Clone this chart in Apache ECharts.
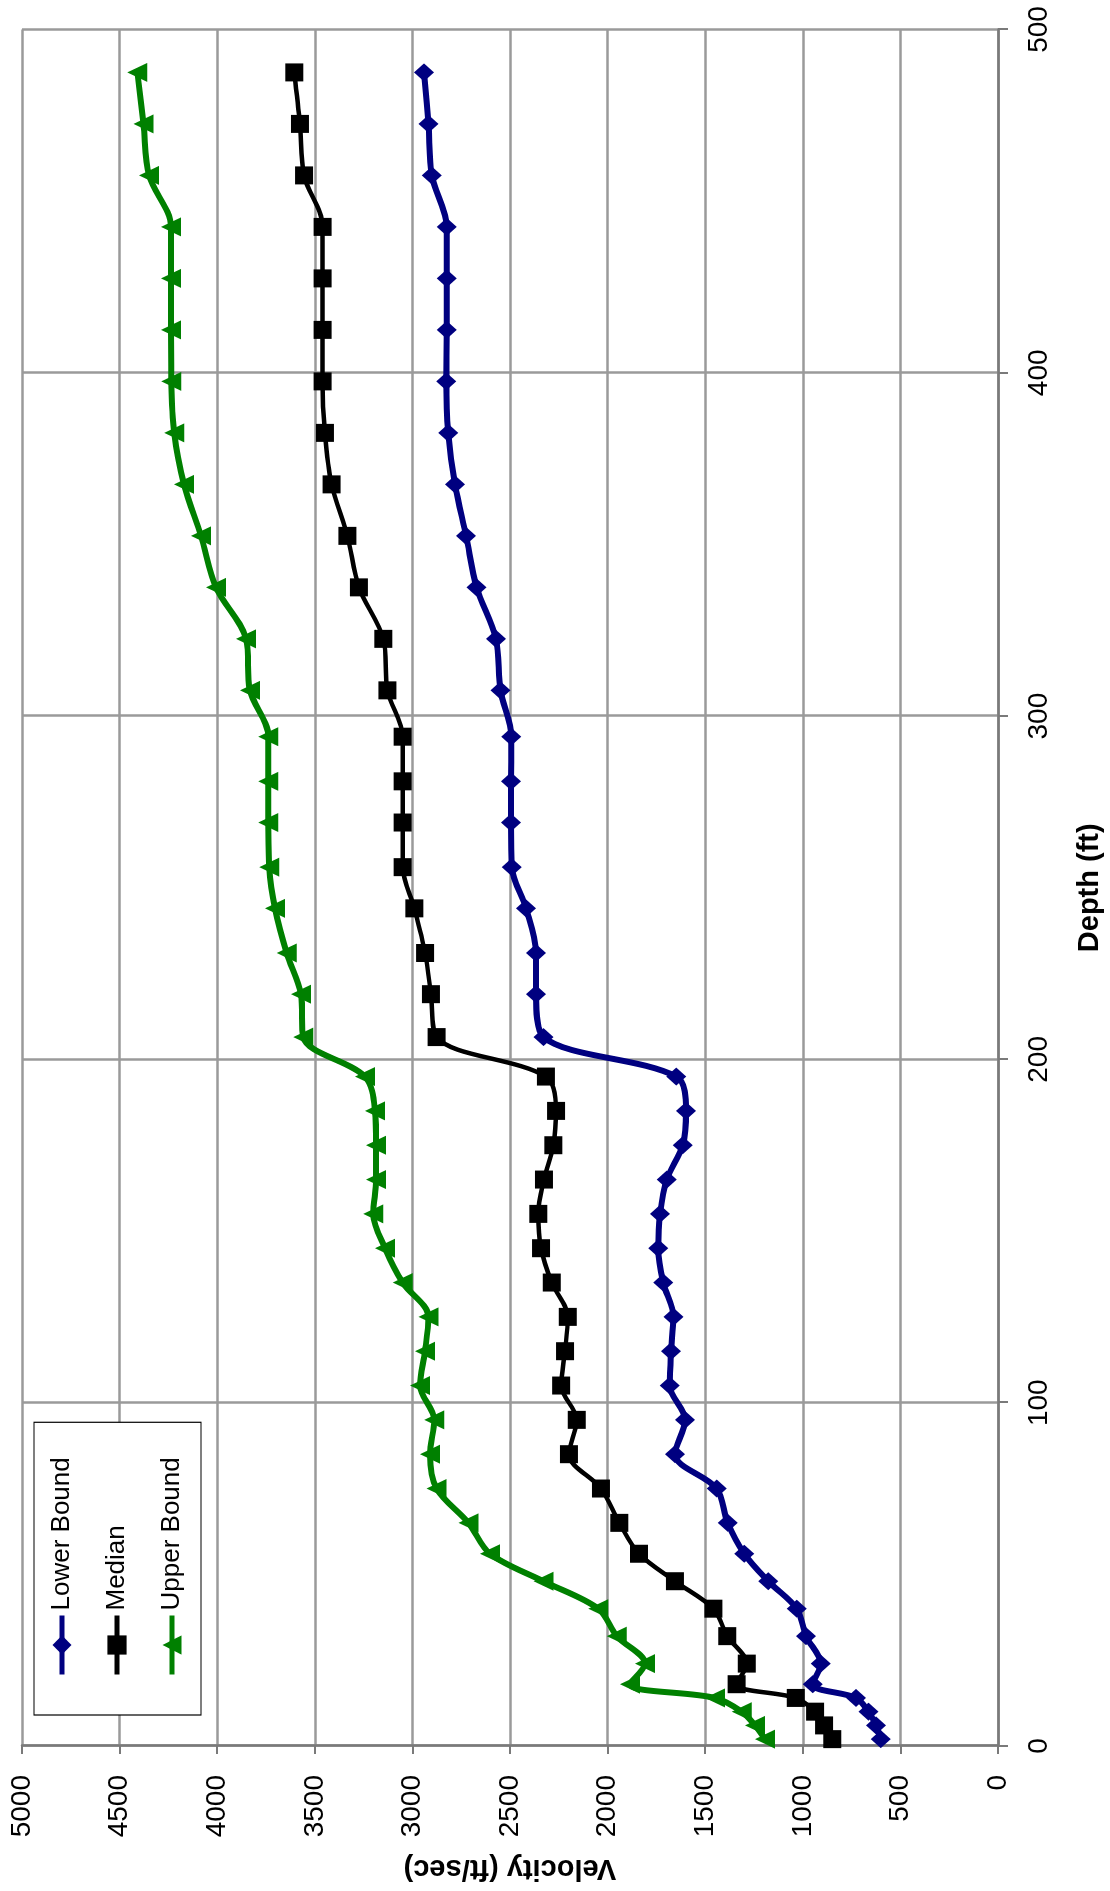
<!DOCTYPE html>
<html>
<head>
<meta charset="utf-8">
<title>Velocity vs Depth</title>
<script src="https://cdn.jsdelivr.net/npm/echarts@6/dist/echarts.min.js"></script>
<style>
  html, body { margin: 0; padding: 0; background: #ffffff; overflow: hidden; }
  #page { position: relative; width: 1110px; height: 1891px; overflow: hidden; background: #ffffff; }
  /* The chart is laid out landscape (depth across, velocity up) and turned a quarter turn
     counter-clockwise so depth runs up the page on the right. */
  #chart {
    position: absolute; left: 0; top: 0;
    width: 1891px; height: 1110px;
    transform-origin: 0 0;
    transform: translate(0px, 1891px) rotate(-90deg);
  }
</style>
</head>
<body>
<div id="page"><div id="chart"></div></div>
<script>
// Depth of each measurement (ft)
const depths = [
  2, 6, 10, 14, 18, 24, 32, 40, 48, 56, 65, 75, 85, 95,
  105, 115, 125, 135, 145, 155, 165, 175, 185, 195,
  206.5, 219, 231, 244, 256, 269, 281, 294,
  307.5, 322.5, 337.5, 352.5, 367.5, 382.5, 397.5,
  412.5, 427.5, 442.5, 457.5, 472.5, 487.5
];

// Shear-wave velocity (ft/sec)
const lowerBound = [
  601, 625, 664, 727, 949, 908, 983, 1031, 1177, 1300, 1385, 1441, 1655, 1603,
  1682, 1675, 1663, 1715, 1740, 1731, 1697, 1615, 1598, 1648,
  2328, 2367, 2367, 2418, 2491, 2495, 2495, 2493,
  2549, 2572, 2671, 2725, 2782, 2816, 2826,
  2824, 2824, 2824, 2901, 2918, 2940
];
const median = [
  849, 891, 937, 1036, 1339, 1287, 1387, 1458, 1655, 1839, 1940, 2034, 2198, 2158,
  2238, 2218, 2204, 2286, 2341, 2355, 2326, 2278, 2264, 2316,
  2876, 2905, 2935, 2990, 3050, 3050, 3050, 3050,
  3128, 3149, 3274, 3333, 3414, 3448, 3460,
  3460, 3460, 3460, 3555, 3576, 3605
];
const upperBound = [
  1194, 1245, 1313, 1450, 1885, 1808, 1953, 2048, 2329, 2602, 2713, 2876, 2910, 2888,
  2961, 2935, 2918, 3050, 3140, 3200, 3186, 3186, 3192, 3243,
  3559, 3571, 3644, 3704, 3733, 3738, 3738, 3738,
  3832, 3852, 4006, 4083, 4170, 4220, 4235,
  4237, 4237, 4237, 4349, 4378, 4409
];

// Axis ranges and tick steps
const depthTicks = [0, 100, 200, 300, 400, 500];
const velocityTicks = [0, 500, 1000, 1500, 2000, 2500, 3000, 3500, 4000, 4500, 5000];

const seriesNames = ['Lower Bound', 'Median', 'Upper Bound'];

const FONT = '"Liberation Sans", Arial, sans-serif';
const GRID_COLOR = '#9a9a9a';
const AXIS_COLOR = '#7a7a7a';

function pairs(values) {
  return depths.map((d, i) => [d, values[i]]);
}

const chart = echarts.init(document.getElementById('chart'), null, { renderer: 'canvas' });

chart.setOption({
  animation: false,
  backgroundColor: '#ffffff',
  textStyle: { fontFamily: FONT },
  grid: { left: 143, right: 29.5, top: 22, bottom: 112, containLabel: false },
  legend: {
    data: seriesNames,
    orient: 'vertical',
    left: 176,
    top: 34,
    itemWidth: 59,
    itemHeight: 24,
    itemGap: 29,
    itemTextGap: 6,
    padding: [15, 35, 16, 38],
    borderColor: '#000000',
    borderWidth: 1.2,
    backgroundColor: '#ffffff',
    lineStyle: { width: 5 },
    textStyle: { fontFamily: FONT, fontSize: 26, color: '#000000', lineHeight: 26 }
  },
  xAxis: {
    type: 'value',
    min: depthTicks[0],
    max: depthTicks[depthTicks.length - 1],
    interval: depthTicks[1] - depthTicks[0],
    name: 'Depth (ft)',
    nameLocation: 'middle',
    nameGap: 77,
    nameTextStyle: { fontFamily: FONT, fontSize: 29, fontWeight: 'bold', color: '#000000' },
    axisLine: { show: true, lineStyle: { color: AXIS_COLOR, width: 2.5 } },
    axisTick: { show: true, inside: false, length: 10, lineStyle: { color: AXIS_COLOR, width: 2 } },
    axisLabel: { fontFamily: FONT, fontSize: 28, color: '#000000', margin: 27 },
    splitLine: { show: true, lineStyle: { color: GRID_COLOR, width: 2.5 } }
  },
  yAxis: {
    type: 'value',
    min: velocityTicks[0],
    max: velocityTicks[velocityTicks.length - 1],
    interval: velocityTicks[1] - velocityTicks[0],
    name: 'Velocity (ft/sec)',
    nameLocation: 'middle',
    nameRotate: 90,
    nameGap: 108,
    nameTextStyle: { fontFamily: FONT, fontSize: 29, fontWeight: 'bold', color: '#000000' },
    axisLine: { show: true, lineStyle: { color: AXIS_COLOR, width: 2.5 } },
    axisTick: { show: true, inside: false, length: 8, lineStyle: { color: AXIS_COLOR, width: 2 } },
    axisLabel: {
      fontFamily: FONT, fontSize: 28, color: '#000000', margin: 29,
      formatter: (v) => String(v)
    },
    splitLine: { show: true, lineStyle: { color: GRID_COLOR, width: 2.5 } }
  },
  series: [
    {
      name: seriesNames[0],
      type: 'line',
      data: pairs(lowerBound),
      smooth: 0.33,
      symbol: 'diamond',
      symbolSize: [18, 20],
      lineStyle: { color: '#000080', width: 6 },
      itemStyle: { color: '#000080' },
      z: 3
    },
    {
      name: seriesNames[1],
      type: 'line',
      data: pairs(median),
      smooth: 0.33,
      symbol: 'rect',
      symbolSize: 18,
      lineStyle: { color: '#000000', width: 4.5 },
      itemStyle: { color: '#000000' },
      z: 3
    },
    {
      name: seriesNames[2],
      type: 'line',
      data: pairs(upperBound),
      smooth: 0.33,
      symbol: 'triangle',
      symbolSize: [19, 20],
      lineStyle: { color: '#008000', width: 6 },
      itemStyle: { color: '#008000' },
      z: 3
    }
  ]
});
</script>
</body>
</html>
